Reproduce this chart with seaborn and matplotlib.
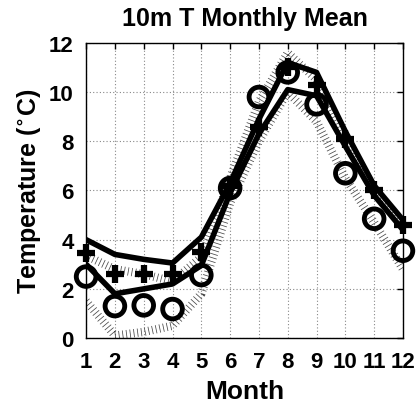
import numpy as np
import pandas as pd
import matplotlib
matplotlib.use("Agg")
import matplotlib.pyplot as plt
import seaborn as sns

months = [1, 2, 3, 4, 5, 6, 7, 8, 9, 10, 11, 12]
upper_line = [4.0, 3.4, 3.2, 3.05, 4.1, 6.3, 8.9, 11.2, 10.8, 8.4, 6.2, 4.8]
lower_line = [3.0, 1.8, 2.0, 2.2, 2.95, 5.9, 8.3, 10.1, 9.85, 7.8, 5.8, 4.4]
plus_vals = [3.45, 2.6, 2.6, 2.6, 3.5, 6.2, 8.6, 11.0, 10.3, 8.1, 6.0, 4.6]
circle_vals = [2.5, 1.3, 1.33, 1.18, 2.56, 6.1, 9.8, 10.8, 9.5, 6.7, 4.85, 3.55]
band_upper = [3.35, 2.8, 2.6, 2.3, 3.3, 6.5, 9.6, 11.6, 10.5, 8.1, 6.0, 4.5]
band_lower = [1.5, 0.1, 0.25, 0.5, 1.8, 5.5, 8.0, 10.0, 8.8, 6.5, 4.7, 2.8]

sns.set_theme(style="white")
plt.rcParams['font.family'] = ['Liberation Sans', 'DejaVu Sans']
plt.rcParams['font.weight'] = 'bold'
plt.rcParams['mathtext.default'] = 'bf'
plt.rcParams['text.color'] = 'black'
plt.rcParams['axes.labelcolor'] = 'black'
plt.rcParams['xtick.color'] = 'black'
plt.rcParams['ytick.color'] = 'black'

fig = plt.figure(figsize=(4.18, 4.10), dpi=100)
ax = fig.add_axes([0.206, 0.173, 0.758, 0.720])

df = pd.DataFrame({"m": months, "up": upper_line, "lo": lower_line,
                   "pl": plus_vals, "ci": circle_vals,
                   "bu": band_upper, "bl": band_lower})

for col in ["bu", "bl"]:
    sns.lineplot(data=df, x="m", y=col, ax=ax, color="#444444", lw=6,
                 linestyle=(0, (0.09, 0.36)), zorder=2)
for col in ["up", "lo"]:
    sns.lineplot(data=df, x="m", y=col, ax=ax, color="black", lw=4, zorder=3)

sns.scatterplot(data=df, x="m", y="pl", ax=ax, marker="+", s=170,
                color="black", linewidth=4.5, zorder=4, clip_on=False)
sns.scatterplot(data=df, x="m", y="ci", ax=ax, marker="o", s=200,
                facecolor="none", edgecolor="black", linewidth=3.5, zorder=4,
                clip_on=False)

ax.set_xlim(1, 12)
ax.set_ylim(0, 12)
ax.set_xticks(months)
ax.set_yticks([0, 2, 4, 6, 8, 10, 12])
ax.grid(True, color="#888888", linestyle=(0, (1, 2)), linewidth=0.8)
ax.tick_params(direction="in", length=4, width=1, top=True, right=True,
               labelsize=16, pad=9, colors="black")
for lab in ax.get_xticklabels() + ax.get_yticklabels():
    lab.set_fontweight("bold")
for s in ax.spines.values():
    s.set_color("black")
    s.set_linewidth(1)

ax.set_xlabel("Month", fontsize=19, fontweight="bold", labelpad=5)
ax.set_ylabel(r"Temperature ($^{\circ}$C)", fontsize=18, fontweight="bold", labelpad=4)
ax.set_title("10m T Monthly Mean", fontsize=18, fontweight="bold", pad=13)

fig.savefig("out.png", dpi=100)
